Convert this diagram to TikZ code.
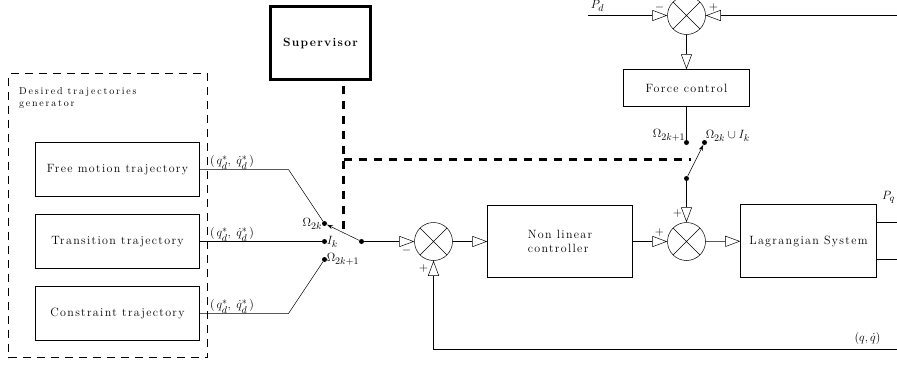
\documentclass[tikz,border=0pt]{standalone}
\usepackage{amsmath}
\usepackage{amssymb}
\usepackage{fontspec}
\setmainfont{Latin Modern Roman}
\DeclareMathSizes{12}{12}{10}{8}
\usepackage{tikz}
\usetikzlibrary{arrows.meta,positioning,shapes}

\begin{document}
\begin{tikzpicture}[x=1pt,y=-1pt,node distance=72pt,line width=0.5pt,every node/.style={font=\large}]
\tikzstyle{block}=[draw,rectangle,font=\large\addfontfeature{LetterSpace=11}]
\tikzstyle{traj}=[block,minimum width=164pt,minimum height=54pt]
\tikzstyle{sum}=[draw,circle,minimum size=38pt,inner sep=0pt,
  path picture={\draw (path picture bounding box.north west) -- (path picture bounding box.south east)
    (path picture bounding box.north east) -- (path picture bounding box.south west);}]
\tikzstyle{dot}=[circle,fill,inner sep=0pt,minimum size=5pt]
\tikzstyle{tip}=[-{Triangle[open,length=15pt,width=11pt]}]
\tikzstyle{ctrl}=[line width=2.6pt,dash pattern=on 8pt off 7pt]
\useasboundingbox (-0.5,-0.5) rectangle (896.5,364.5);

% generator
\node [draw,dash pattern=on 8pt off 6pt,minimum width=199pt,minimum height=284pt] (gen) at (107.5,215) {};
\node [anchor=north west,align=left,font=\addfontfeature{LetterSpace=18}] (gtitle) at (15,83) {Desired trajectories\\generator};
\node [traj] (free) at (117,169) {Free motion trajectory};
\node [traj,below of=free] (trans) {Transition trajectory};
\node [traj,below of=trans] (cons) {Constraint trajectory};
\foreach \b in {free,trans,cons}
  \node [anchor=south west,inner sep=1pt] at ([xshift=9pt,yshift=-1pt]\b.east) {$(\,q_d^*,\;\dot{q}_d^*\,)$};

% switch
\coordinate (bup) at (288,169);
\coordinate (bdn) at (288,313);
\node [dot] (o2k) at (324,223) {};
\node [dot] (ik) at (324,241) {};
\node [dot] (o2k1) at (324,259) {};
\node [dot] (piv) at (361,241) {};
\node [left,inner sep=2pt] at (o2k) {$\Omega_{2k}$};
\node [right,inner sep=2pt] at (ik) {$I_k$};
\node [right,inner sep=2pt] at (o2k1) {$\Omega_{2k+1}$};
\draw (free.east) -- (bup) -- (o2k);
\draw (trans.east) -- (ik);
\draw (cons.east) -- (bdn) -- (o2k1);
\draw [-{Stealth[length=6pt,width=4pt]}] (piv) -- (o2k);

% main loop
\node [sum] (s1) at (433,241) {};
\node [block,minimum width=145pt,minimum height=72pt,align=left] (nlc) at (559.5,241) {Non linear\\controller};
\node [sum] (s2) at (686,241) {};
\node [block,minimum width=136pt,minimum height=73pt] (lag) at (808,240.5) {Lagrangian System};
\coordinate (fbk) at (897,349);
\coordinate (pq) at (897,222);
\coordinate (qv) at (897,259);
\draw [tip] (piv) -- (s1);
\draw [tip] (s1) -- (nlc);
\draw [tip] (nlc) -- (s2);
\draw [tip] (s2) -- (lag);
\draw [tip] (fbk) -| (s1);
\draw (lag.east |- pq) -- (pq);
\draw (lag.east |- qv) -- (qv);
\node at (406,250) {$-$};
\node at (423,268) {$+$};
\node at (659,232) {$+$};
\node at (677,213) {$+$};
\node at (888,197) {$P_q$};
\node at (867,338) {$(q,\dot{q})$};

% force loop
\node [sum] (s3) at (686,15) {};
\node [block,minimum width=126pt,minimum height=37pt] (force) at (686,87.5) {Force control};
\coordinate (pd) at (587,15);
\coordinate (pin) at (897,15);
\node [dot] (fa) at (686,142) {};
\node [dot] (fb) at (704,142) {};
\node [dot] (piv2) at (686,178) {};
\draw [tip] (pd) -- (s3);
\draw [tip] (pin) -- (s3);
\draw [tip] (s3) -- (force);
\draw (force) -- (fa);
\draw [-{Stealth[length=6pt,width=4pt]}] (piv2) -- (fb);
\draw [tip] (piv2) -- (s2);
\node [inner sep=1pt] at (597,5) {$P_d$};
\node [inner sep=0pt] at (659,7) {$-$};
\node [inner sep=0pt] at (713,7) {$+$};
\node [above left,inner sep=1pt] at (fa) {$\Omega_{2k+1}$};
\node [above right,inner sep=1pt] at (fb) {$\Omega_{2k}\cup I_k$};

% supervisor
\node [draw,line width=2.5pt,minimum width=100pt,minimum height=73pt,font=\large\bfseries\addfontfeature{LetterSpace=11}] (sup) at (320,42.5) {Supervisor};
\coordinate (sv1) at (343,85);
\coordinate (sv2) at (343,228);
\coordinate (sv3) at (343,159);
\coordinate (sv4) at (690,159);
\draw [ctrl] (sv1) -- (sv2);
\draw [ctrl] (sv3) -- (sv4);
\end{tikzpicture}
\end{document}
